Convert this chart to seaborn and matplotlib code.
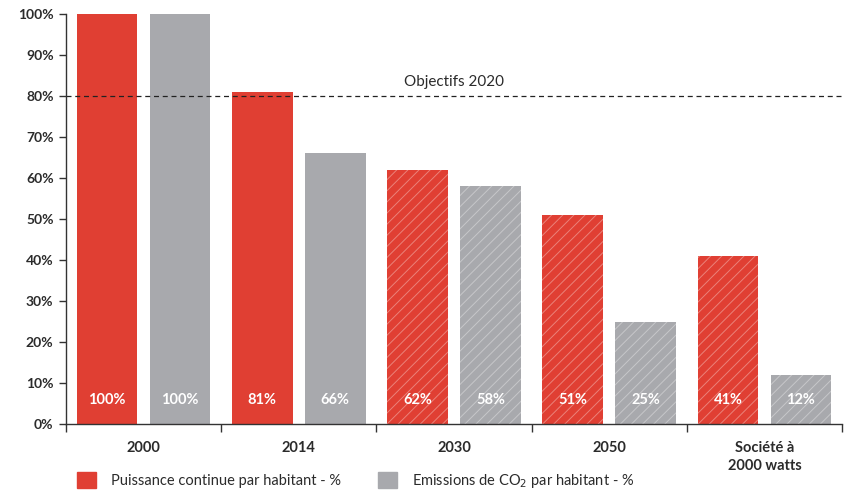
import matplotlib
matplotlib.use("Agg")
import matplotlib.pyplot as plt
import matplotlib.patches as mpatches
import seaborn as sns
import pandas as pd

categories = ["2000", "2014", "2030", "2050", "Société à\n2000 watts"]
puissance = [100, 81, 62, 51, 41]
emissions = [100, 66, 58, 25, 12]
series_names = ["Puissance continue par habitant - %", "Emissions de CO$_2$ par habitant - %"]
y_ticks = [0, 10, 20, 30, 40, 50, 60, 70, 80, 90, 100]
objectif = 80
objectif_label = "Objectifs 2020"

RED = "#E03F33"
GREY = "#A8A9AD"
TXT = "#2b2b2b"

sns.set_theme(style="white")
plt.rcParams["font.family"] = ["Lato", "DejaVu Sans"]
plt.rcParams["hatch.linewidth"] = 0.7

df = pd.DataFrame({
    "cat": categories * 2,
    "val": puissance + emissions,
    "serie": [series_names[0]] * len(categories) + [series_names[1]] * len(categories),
})

fig = plt.figure(figsize=(8.47, 4.91), dpi=100)
ax = fig.add_axes([66 / 847, 1 - 424 / 491, (842 - 66) / 847, (424 - 14) / 491])

sns.barplot(data=df, x="cat", y="val", hue="serie", palette=[RED, GREY],
            width=0.94, gap=0.17, ax=ax, legend=False, saturation=1, errorbar=None)

n = len(categories)
vals = puissance + emissions
for i, bar in enumerate(ax.patches[:2 * n]):
    bar.set_linewidth(0)
    if i % n >= 2:
        bar.set_hatch("///")
        bar.set_edgecolor((1, 1, 1, 0.35))
    ax.text(bar.get_x() + bar.get_width() / 2, 5.8, f"{vals[i]}%",
            ha="center", va="center", color="white", fontsize=10.5, fontweight="bold")

ax.axhline(objectif, color="#222222", linestyle=(0, (4, 3)), linewidth=0.9, clip_on=False)
ax.text(2.0, 81.6, objectif_label, ha="center", va="bottom", fontsize=11, color=TXT)

ax.set_ylim(0, 100)
ax.set_xlim(-0.5, n - 0.5)
ax.set_yticks(y_ticks)
ax.set_yticklabels([f"{v}%" for v in y_ticks], fontsize=10, fontweight="bold", color=TXT)
ax.set_xticks(range(n))
ax.set_xticklabels(categories, fontsize=10.5, fontweight="bold", color=TXT, linespacing=1.4, va="top")
ax.set_xticks([i - 0.5 for i in range(n + 1)], minor=True)
ax.tick_params(axis="x", which="major", length=0, pad=12)
ax.tick_params(axis="x", which="minor", length=6, width=1, color="#333333", direction="out", bottom=True)
ax.tick_params(axis="y", length=5, width=1, color="#333333", direction="out", left=True, pad=4)
ax.set_xlabel("")
ax.set_ylabel("")
for s in ["top", "right"]:
    ax.spines[s].set_visible(False)
for s in ["left", "bottom"]:
    ax.spines[s].set_color("#333333")
    ax.spines[s].set_linewidth(1)

handles = [mpatches.Patch(color=RED, label=series_names[0]),
           mpatches.Patch(color=GREY, label=series_names[1])]
fig.legend(handles=handles, loc="upper left", bbox_to_anchor=(77 / 847, 1 - 472 / 491),
           ncol=2, frameon=False, fontsize=10.5, handlelength=1.3, handleheight=1.3,
           handletextpad=1.0, columnspacing=2.6, borderpad=0, borderaxespad=0,
           labelcolor=TXT)

fig.savefig("out.png", dpi=100)
